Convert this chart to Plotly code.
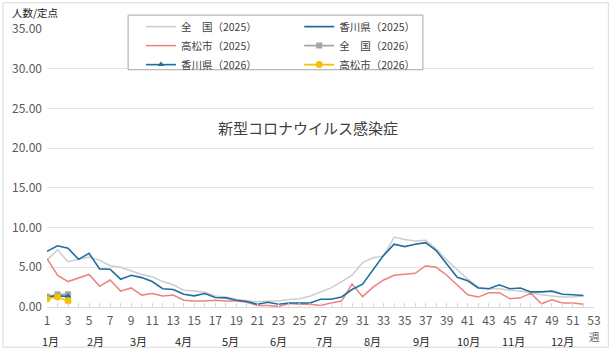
import plotly.graph_objects as go

weeks_2025 = list(range(1, 53))
weeks_2026 = [1, 2, 3]

national_2025 = [5.9, 7.2, 5.7, 6.0, 6.3, 5.9, 5.2, 5.0, 4.5, 4.1, 3.8, 3.2, 2.8, 2.1, 2.0,
                 1.85, 1.4, 1.25, 0.97, 0.85, 0.65, 0.75, 0.75, 0.95, 1.05, 1.35, 1.9, 2.4, 3.2, 4.0,
                 5.6, 6.2, 6.4, 8.8, 8.5,
                 8.3, 8.4, 7.3, 5.9, 4.7, 3.5, 2.5, 2.3, 2.3, 2.1, 2.0, 1.75, 1.55, 1.4, 1.25, 1.25, 1.4]
kagawa_2025 = [7.0, 7.7, 7.4, 6.0, 6.75, 4.8, 4.75, 3.5, 4.0, 3.7, 3.2, 2.3, 2.2, 1.6, 1.4,
               1.7, 1.2, 1.15, 0.85, 0.7, 0.35, 0.6, 0.35, 0.5, 0.5, 0.5, 0.97, 0.97, 1.27, 2.2,
               2.87, 4.65, 6.5, 7.9, 7.6,
               7.9, 8.1, 7.1, 5.4, 3.75, 3.3, 2.4, 2.3, 2.8, 2.3, 2.4, 1.9, 1.9, 2.0, 1.6, 1.55, 1.45]
takamatsu_2025 = [6.1, 4.0, 3.2, 3.7, 4.1, 2.6, 3.4, 2.0, 2.4, 1.5, 1.7, 1.4, 1.5, 0.85, 0.75,
                  0.75, 0.85, 0.75, 0.75, 0.6, 0.2, 0.2, 0.05, 0.45, 0.35, 0.35, 0.2, 0.5, 0.75, 2.9,
                  1.3, 2.5, 3.4, 4.0, 4.1,
                  4.25, 5.2, 5.0, 4.0, 2.8, 1.55, 1.25, 1.8, 1.8, 1.05, 1.15, 1.75, 0.4, 0.9, 0.5, 0.5, 0.35]

national_2026 = [1.3, 1.6, 1.6]
kagawa_2026 = [1.25, 1.4, 1.35]
takamatsu_2026 = [1.05, 1.25, 0.8]

tick_weeks = list(range(1, 54))
tick_labels = [str(w) if w % 2 == 1 else "" for w in tick_weeks]

month_labels = ["1月", "2月", "3月", "4月", "5月", "6月", "7月", "8月", "9月", "10月", "11月", "12月"]
month_pos = [1.31, 5.64, 9.72, 13.95, 18.4, 23.0, 27.4, 31.9, 36.6, 41.1, 45.3, 50.0]

FONT = "Noto Sans CJK JP"
W, H = 613, 348
L, R, T, B = 45, 15, 27, 41
PW, PH = W - L - R, H - T - B


def px(xp):
    return (xp - L) / PW


def py(yp):
    return (H - B - yp) / PH


C_NAT = "#CDCDCD"
C_KAG = "#1F6E9E"
C_TAK = "#EC847C"
C_NAT26 = "#A5A5A5"
C_TAK26 = "#F5C000"

fig = go.Figure()
fig.add_trace(go.Scatter(x=weeks_2025, y=national_2025, mode="lines", name="全　国（2025）",
                         line=dict(color=C_NAT, width=1.5), legend="legend", legendrank=1))
fig.add_trace(go.Scatter(x=weeks_2025, y=takamatsu_2025, mode="lines", name="高松市（2025）",
                         line=dict(color=C_TAK, width=1.5), legend="legend", legendrank=2))
fig.add_trace(go.Scatter(x=weeks_2025, y=kagawa_2025, mode="lines", name="香川県（2025）",
                         line=dict(color=C_KAG, width=1.6), legend="legend2", legendrank=1))
fig.add_trace(go.Scatter(x=weeks_2026, y=national_2026, mode="lines+markers", name="全　国（2026）",
                         line=dict(color=C_NAT26, width=1.6),
                         marker=dict(symbol="square", size=6, color=C_NAT26), legend="legend2",
                         legendrank=2))
fig.add_trace(go.Scatter(x=weeks_2026, y=kagawa_2026, mode="lines+markers", name="香川県（2026）",
                         line=dict(color=C_KAG, width=1.6),
                         marker=dict(symbol="triangle-up", size=6, color=C_KAG), legend="legend",
                         legendrank=3))
fig.add_trace(go.Scatter(x=weeks_2026, y=takamatsu_2026, mode="lines+markers", name="高松市（2026）",
                         line=dict(color=C_TAK26, width=1.6),
                         marker=dict(symbol="circle", size=7, color=C_TAK26), legend="legend2",
                         legendrank=3))

annotations = []
for lab, pos in zip(month_labels, month_pos):
    annotations.append(dict(x=pos, y=py(341), xref="x", yref="paper", text=lab, showarrow=False,
                            xanchor="center", yanchor="middle",
                            font=dict(family=FONT, size=11, color="#262626")))
annotations.append(dict(x=53, y=py(337), xref="x", yref="paper", text="週", showarrow=False,
                        xanchor="center", yanchor="middle",
                        font=dict(family=FONT, size=10.5, color="#595959")))
annotations.append(dict(x=px(8), y=py(10), xref="paper", yref="paper", text="人数/定点", showarrow=False,
                        xanchor="left", yanchor="middle",
                        font=dict(family=FONT, size=10.5, color="#262626")))
annotations.append(dict(x=px(309), y=py(126), xref="paper", yref="paper", text="新型コロナウイルス感染症",
                        showarrow=False, xanchor="center", yanchor="middle",
                        font=dict(family=FONT, size=15, color="#404040")))

shapes = [
    dict(type="rect", xref="paper", yref="paper", x0=px(0.5), x1=px(W - 0.5), y0=py(H - 0.5), y1=py(0.5),
         line=dict(color="#D9D9D9", width=1), layer="below"),
    dict(type="rect", xref="paper", yref="paper", x0=px(127), x1=px(425), y0=py(68), y1=py(13),
         line=dict(color="#A6A6A6", width=1), fillcolor="white", layer="above"),
]

leg_font = dict(family=FONT, size=10.5, color="#404040")
fig.update_layout(
    width=W, height=H,
    margin=dict(l=L, r=R, t=T, b=B),
    paper_bgcolor="white", plot_bgcolor="white",
    font=dict(family=FONT, color="#595959"),
    annotations=annotations,
    shapes=shapes,
    legend=dict(x=px(140), y=py(10), xanchor="left", yanchor="top", orientation="v",
                bgcolor="rgba(0,0,0,0)", borderwidth=0, font=leg_font, traceorder="normal"),
    legend2=dict(x=px(300), y=py(10), xanchor="left", yanchor="top", orientation="v",
                 bgcolor="rgba(0,0,0,0)", borderwidth=0, font=leg_font, traceorder="normal"),
    xaxis=dict(range=[1, 53], tickmode="array", tickvals=tick_weeks, ticktext=tick_labels,
               ticks="inside", ticklen=4, tickcolor="#D9D9D9", showline=True, linecolor="#D9D9D9",
               linewidth=1, showgrid=False, zeroline=False, ticklabelstandoff=3,
               tickfont=dict(family=FONT, size=12, color="#595959")),
    yaxis=dict(range=[0, 35], tickmode="linear", tick0=0, dtick=5, tickformat=".2f",
               showgrid=True, gridcolor="#E3E3E3", gridwidth=1, zeroline=False, showline=False,
               ticks="", ticklabelstandoff=4,
               tickfont=dict(family=FONT, size=12, color="#595959")),
)

fig.write_html("out.html")
